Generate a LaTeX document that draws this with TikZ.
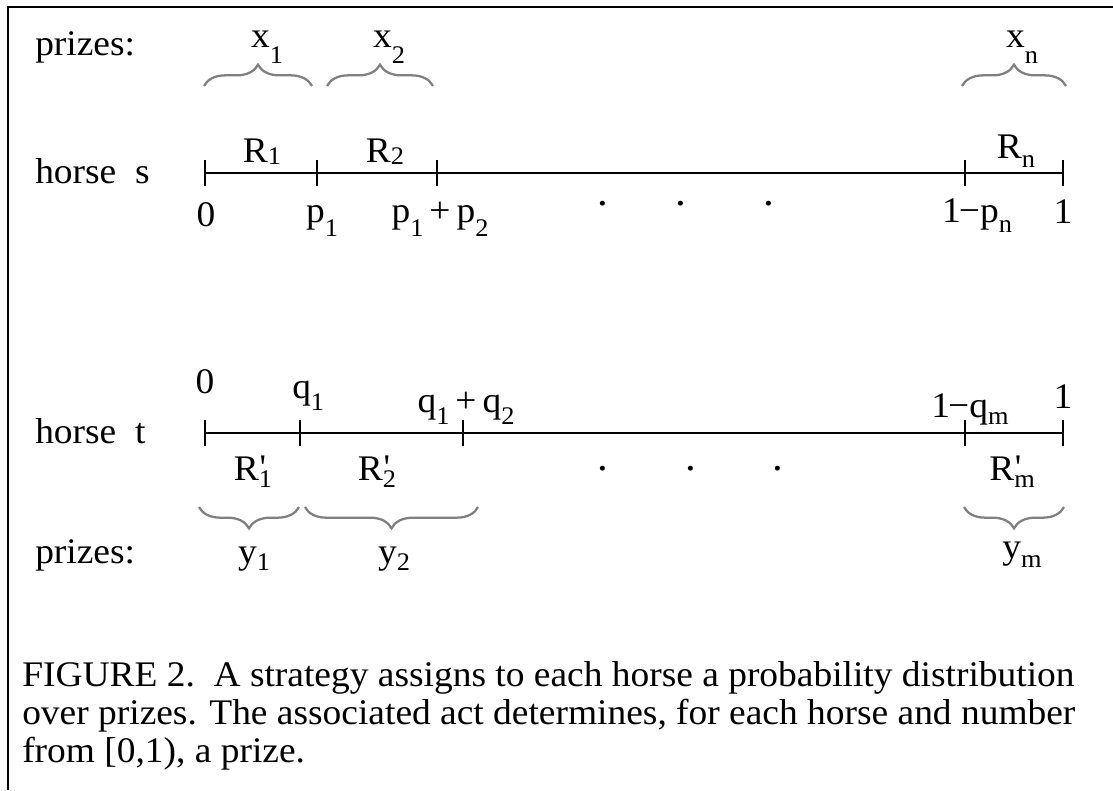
\documentclass[tikz,border=0pt]{standalone}
\usepackage{fontspec}
\setmainfont{Liberation Serif}[FakeStretch=1.04]
\newfontfamily\plainfont{Liberation Serif}[Ligatures=TeXOff]
\usetikzlibrary{decorations.pathreplacing}
\newcommand\lo[2][0.3em]{\raisebox{-#1}{\fontsize{19}{19}\selectfont #2}}
\newcommand\lp[2][0.2em]{\rlap{\raisebox{0.02em}{\plainfont\kern0.02em'}}\lo[#1]{#2}}
\begin{document}
\begin{tikzpicture}[x=0.75pt,y=-0.75pt,
  lbl/.style={font=\fontsize{27}{30}\selectfont, inner sep=0pt, anchor=base},
  axisline/.style={line width=1.7pt},
  tickmark/.style={line width=1.7pt},
  brc/.style={decorate, decoration={brace, amplitude=16pt}, draw=black!50, line width=1.7pt},
  frameline/.style={line width=2.2pt}]
\fill[white] (0,0) rectangle (1113,790);
\useasboundingbox (0,0) rectangle (1113,790);
\draw[frameline] (8,790) -- (8,7) -- (1113,7);

% ---- horse s ----
\coordinate (s0) at (205,173);
\coordinate (s1) at (317,173);
\coordinate (s2) at (437,173);
\coordinate (s3) at (965,173);
\coordinate (s4) at (1063,173);
\draw[axisline] (s0) -- (s4);
\foreach \c in {s0,s1,s2,s3,s4}
  \draw[tickmark] ([yshift=10pt]\c) -- ([yshift=-10pt]\c);

\node[lbl, anchor=base west] (prs) at (35,55) {prizes:};
\node[lbl, anchor=base west] (hs) at (35,183) {horse\ \ s};

\node[lbl] (x1) at (267,47) {x\lo[0.45em]{1}};
\node[lbl] (x2) at (389,47) {x\lo[0.45em]{2}};
\node[lbl] (xn) at (1022,47) {x\lo[0.45em]{n}};

\coordinate (bx1a) at (204,86); \coordinate (bx1b) at (312,86);
\coordinate (bx2a) at (327,86); \coordinate (bx2b) at (433,86);
\coordinate (bxna) at (962,86); \coordinate (bxnb) at (1066,86);
\draw[brc] (bx1a) -- (bx1b);
\draw[brc] (bx2a) -- (bx2b);
\draw[brc] (bxna) -- (bxnb);

\node[lbl] (R1) at (262,162) {R\lo[0.08em]{1}};
\node[lbl] (R2) at (385,162) {R\lo[0.08em]{2}};
\node[lbl] (Rn) at (1016,158) {R\lo[0.25em]{n}};

\node[lbl] (t0) at (206,226) {0};
\node[lbl] (tp1) at (322,222) {p\lo[0.4em]{1}};
\node[lbl] (tp12) at (440,222) {p\lo[0.4em]{1}\,+\,p\lo[0.4em]{2}};
\node[lbl] (tpn) at (977,222) {1\kern-0.05em−p\lo[0.3em]{n}};
\node[lbl] (t1) at (1063,223) {1};

\node[lbl, font=\fontsize{31}{31}\selectfont] (d1) at (603,205) {.};
\node[lbl, font=\fontsize{31}{31}\selectfont] (d2) at (681,205) {.};
\node[lbl, font=\fontsize{31}{31}\selectfont] (d3) at (769,205) {.};

% ---- horse t ----
\coordinate (u0) at (205,433);
\coordinate (u1) at (300,433);
\coordinate (u2) at (463,433);
\coordinate (u3) at (965,433);
\coordinate (u4) at (1063,433);
\draw[axisline] (u0) -- (u4);
\foreach \c in {u0,u1,u2,u3,u4}
  \draw[tickmark] ([yshift=10pt]\c) -- ([yshift=-10pt]\c);

\node[lbl, anchor=base west] (ht) at (35,443) {horse\ \ t};
\node[lbl, anchor=base west] (prt) at (35,563) {prizes:};

\node[lbl] (b0) at (205,393) {0};
\node[lbl, anchor=base west] (bq1) at (292,398) {q\lo[0.35em]{1}};
\node[lbl] (bq12) at (466,412) {q\lo[0.35em]{1}\,+\,q\lo[0.35em]{2}};
\node[lbl, anchor=base west] (bqm) at (931,417) {1\kern-0.05em−q\lo[0.2em]{m}};
\node[lbl] (b1) at (1063,408) {1};

\node[lbl] (Rp1) at (253,480) {R\lp{1}};
\node[lbl] (Rp2) at (377,480) {R\lp{2}};
\node[lbl] (Rpm) at (1012,480) {R\lp{m}};

\node[lbl, font=\fontsize{31}{31}\selectfont] (e1) at (603,470) {.};
\node[lbl, font=\fontsize{31}{31}\selectfont] (e2) at (691,470) {.};
\node[lbl, font=\fontsize{31}{31}\selectfont] (e3) at (778,470) {.};

\coordinate (by1a) at (299,507); \coordinate (by1b) at (199,507);
\coordinate (by2a) at (478,507); \coordinate (by2b) at (305,507);
\coordinate (byma) at (1064,507); \coordinate (bymb) at (964,507);
\draw[brc] (by1a) -- (by1b);
\draw[brc] (by2a) -- (by2b);
\draw[brc] (byma) -- (bymb);

\node[lbl] (y1) at (254,563) {y\lo[0.2em]{1}};
\node[lbl] (y2) at (394,563) {y\lo[0.2em]{2}};
\node[lbl] (ym) at (1022,558) {y\lo[0.25em]{m}};

% ---- caption ----
\node[lbl, anchor=base west, align=left, font=\fontsize{27}{28.5}\selectfont] (cap) at (22,762)
 {FIGURE 2.\ \ A strategy assigns to each horse a probability distribution\\
  over prizes. The associated act determines, for each horse and number\\
  from [0,1), a prize.};
\end{tikzpicture}
\end{document}
